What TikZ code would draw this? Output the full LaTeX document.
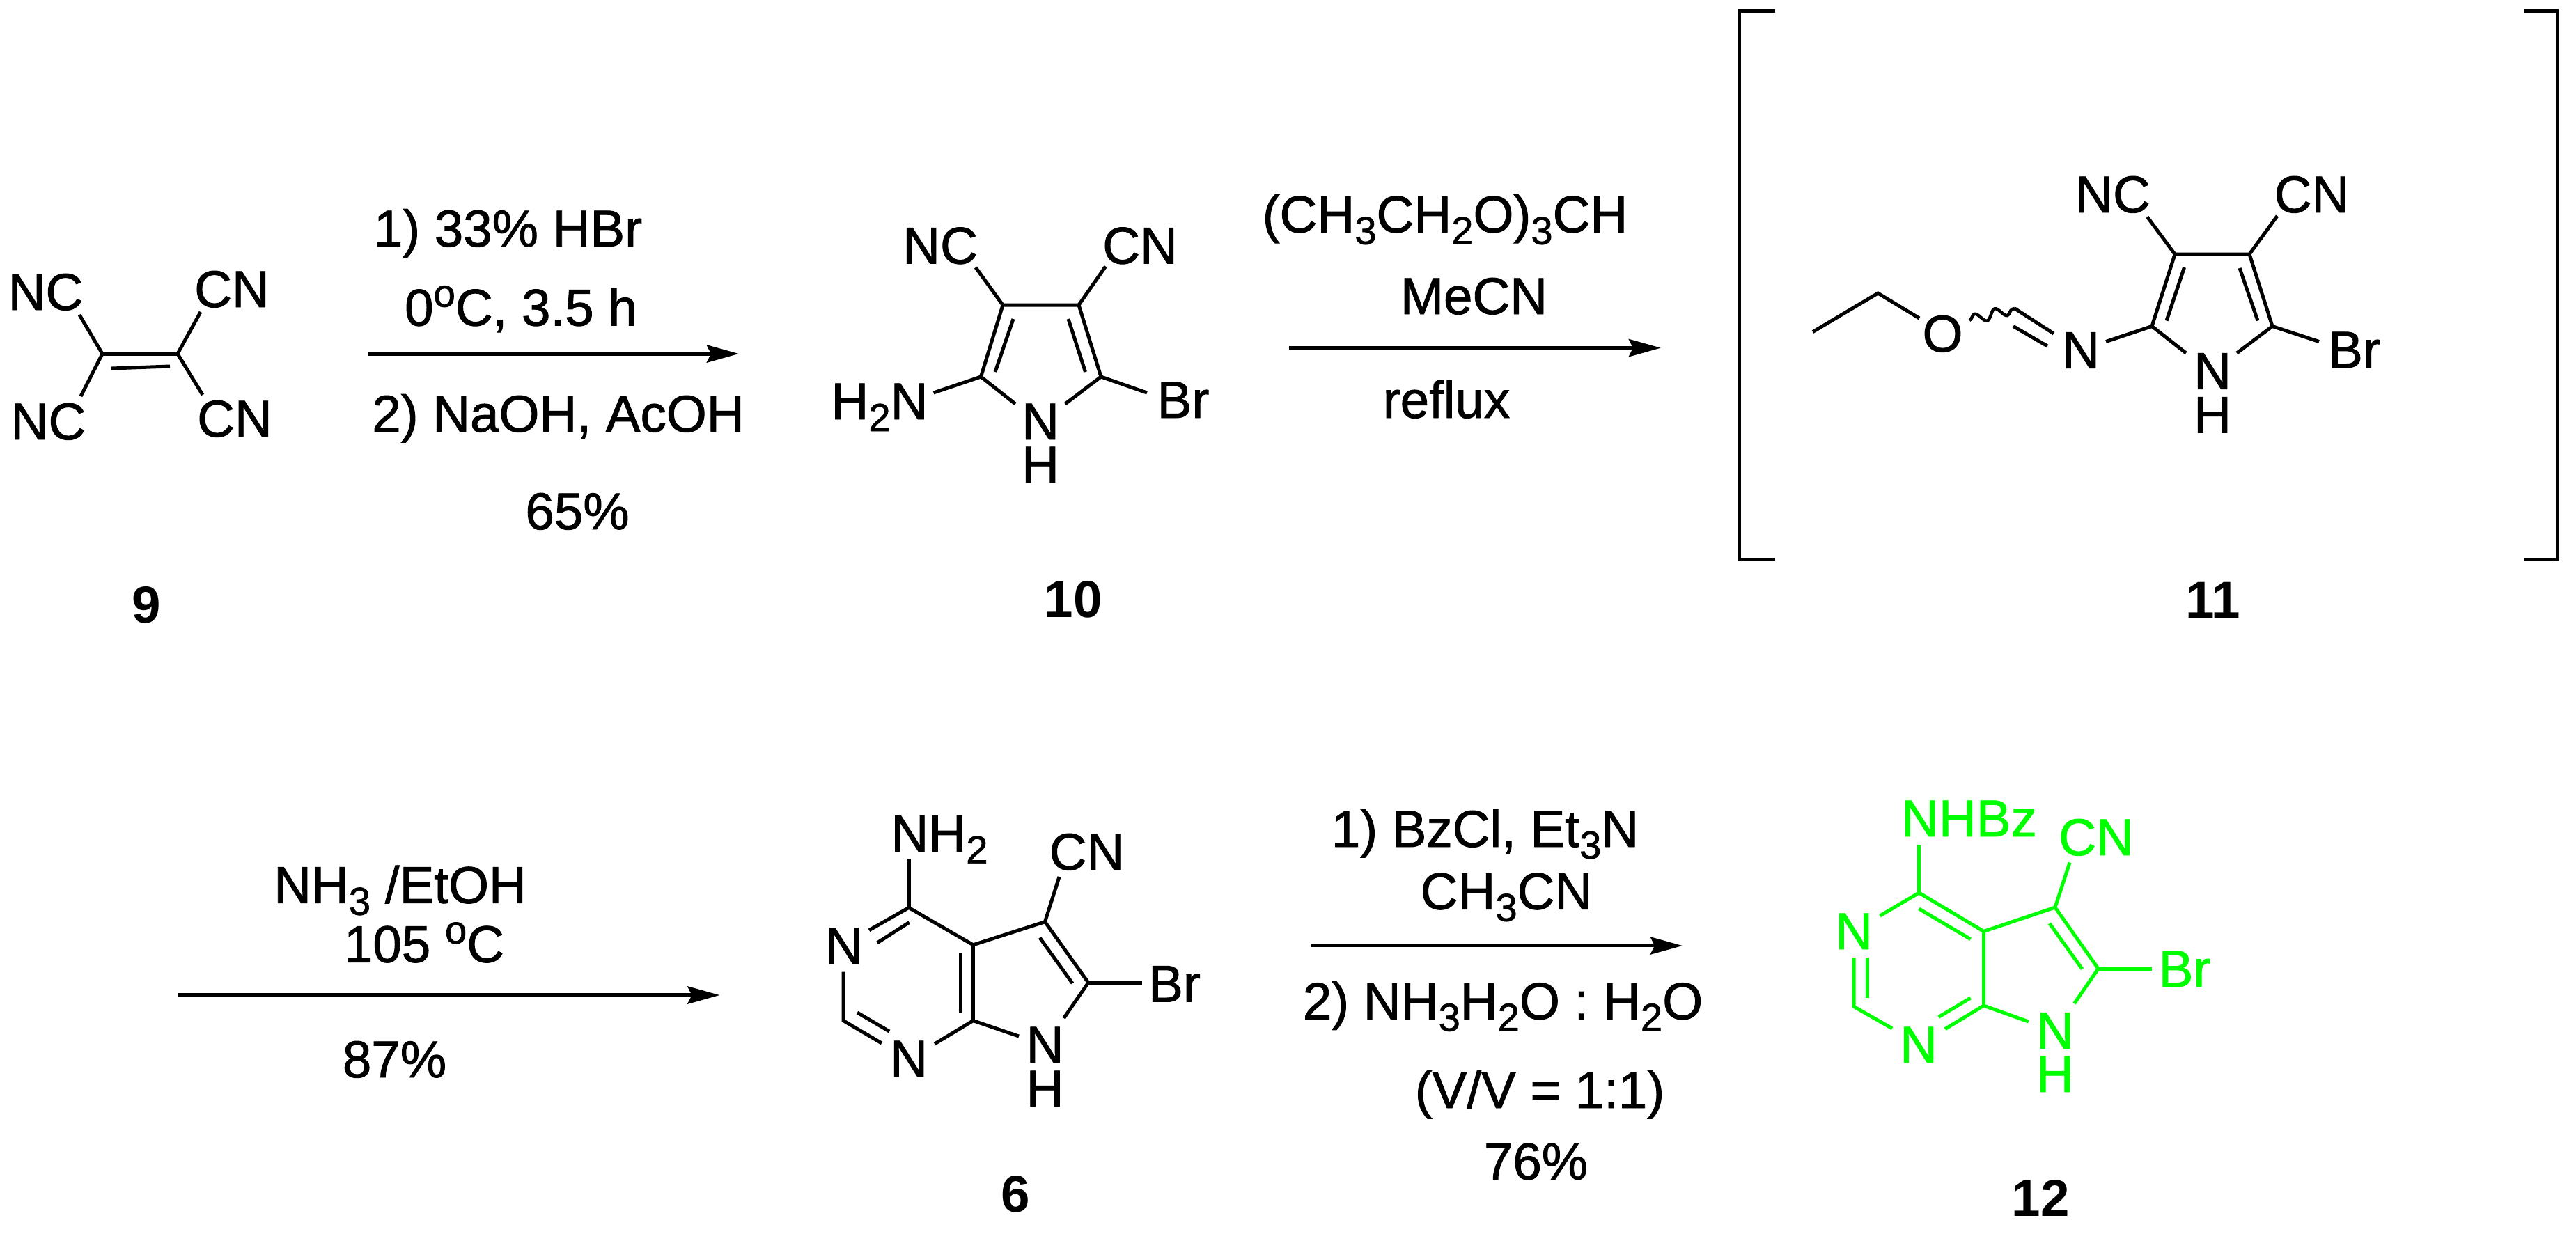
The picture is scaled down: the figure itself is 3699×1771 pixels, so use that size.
\documentclass[tikz,border=0pt]{standalone}
\usepackage{fontspec}
\setmainfont{Liberation Sans}[UprightFeatures={FakeBold=1.2}]
\usetikzlibrary{arrows.meta,decorations.pathmorphing}
\definecolor{grn}{RGB}{0,255,0}
\newcommand{\lowr}[1]{\raisebox{-0.17cm}{\fontsize{16}{16}\selectfont #1}}
\newcommand{\upr}[1]{\raisebox{0.27cm}{\fontsize{16}{16}\selectfont #1}}
\tikzset{
  txt/.style={font=\fontsize{21.2}{25}\selectfont, inner sep=0pt, anchor=base},
  gtxt/.style={txt, text=grn},
  num/.style={font=\fontsize{21.2}{25}\selectfont\bfseries, inner sep=0pt, anchor=base},
  bond/.style={line width=0.05cm, line join=miter, line cap=butt},
  gbond/.style={bond, draw=grn},
  rxn/.style={line width=0.055cm, -{Stealth[length=0.46cm,width=0.25cm,inset=0.06cm]}},
  brk/.style={line width=0.045cm, line join=miter}
}
\begin{document}
\begin{tikzpicture}[x=0.01cm,y=-0.01cm]
\useasboundingbox (0,0) rectangle (3699,1771);
% ---------- coordinates
\foreach \n/\x/\y in {
 a1/147/508, a2/255/508, a3/160/529, a4/244/526, a5/114/452, a6/288/448, a7/116/569, a8/291/567,
 r1s/528/508, r1e/1061/508,
 b2/1408.5/541, b3/1440/438, b4/1549/438, b5/1581/541, b6/1455/458, b7/1429/534, b8/1534/458, b9/1558.5/534,
 b10/1458/580, b11/1529.5/580, b12/1340.5/564, b13/1647/564, b14/1401/384, b15/1587.6/382.5,
 r2s/1851/499.6, r2e/2385/499.6,
 k1/2549/15.6, k2/2498/15.6, k3/2498/803, k4/2549/803, k5/3624/15.6, k6/3672/15.6, k7/3672/803, k8/3624/803,
 c2/3090/468.5, c3/3123/365, c4/3230/365, c5/3263/468.5, c6/3136.5/384, c7/3111/460.5, c8/3216/385, c9/3242/460.5,
 c10/3139/507, c11/3212/507, c12/3330/490.5, c13/3024/490.5, c14/2893/443, c15/2949/479, c16/2891/468.5, c17/2940/497,
 c18/2828/460, c19/2603/476.6, c20/2696.6/421, c21/2756/457, c22/3083.5/311.6, c23/3270/310,
 r3s/256/1429, r3e/1033.5/1429,
 d4/1305/1303.4, d4a/1397.4/1356.8, d7a/1397.4/1465.6, d5/1500.5/1323.7, d6/1562.8/1411, d2/1211/1465.6,
 d10/1248/1335.7, d11/1305.6/1324.5, d12/1259.7/1353.8, d13/1305/1233.3, d14/1379/1368, d15/1379/1455,
 d16/1493/1346.5, d17/1540/1412, d18/1521/1259, d19/1640/1411, d20/1527.6/1462, d21/1463/1488, d22/1342/1499,
 d23/1266/1498, d24/1231/1454, d25/1277/1481, d26/1211/1395.5,
 r4s/1882.6/1358, r4e/2416/1358,
 e4/2755.6/1282, e4a/2848.5/1337.4, e7a/2848.5/1444, e5/2951/1303, e6/3013/1391, e2/2662/1445.4,
 e10/2755.6/1212.7, e11/2699.5/1315, e12/2755.6/1305, e13/2829.6/1348.6, e14/2943/1326, e15/2990/1391.6,
 e16/2972/1238.5, e17/3090/1391, e18/2978.6/1441, e19/2912.8/1467, e20/2793/1477.6, e21/2829.6/1433, e22/2783.7/1460.4,
 e23/2717/1476.8, e24/2662/1375, e25/2681.6/1433, e26/2681.6/1375}
 {\coordinate (\n) at (\x,\y);}
% ---------- compound 9
\node[txt] (n9a) at (65.5,445) {NC};
\node[txt] (n9b) at (333,441) {CN};
\node[txt] (n9c) at (69.5,631) {NC};
\node[txt] (n9d) at (337,627) {CN};
\node[num] (l9) at (210.5,894) {9};
\draw[bond] (a1)--(a2);
\draw[bond] (a3)--(a4);
\draw[bond] (a5)--(a1)--(a7);
\draw[bond] (a6)--(a2)--(a8);
% ---------- reaction 1
\node[txt] (t1a) at (729.5,354) {1) 33\% HBr};
\node[txt] (t1b) at (748,467.5) {0\upr{o}C, 3.5 h};
\node[txt] (t1c) at (801.5,620) {2) NaOH, AcOH};
\node[txt] (t1d) at (829,760) {65\%};
\draw[rxn] (r1s)--(r1e);
% ---------- compound 10
\node[txt] (n10a) at (1350,378.5) {NC};
\node[txt] (n10b) at (1637,378.5) {CN};
\node[txt] (n10c) at (1263,602) {H\lowr{2}N};
\node[txt] (n10d) at (1699,600) {Br};
\node[txt] (n10e) at (1494,631) {N};
\node[txt] (n10f) at (1494,693) {H};
\node[num] (l10) at (1541,886) {10};
\draw[bond] (b10)--(b2)--(b3)--(b4)--(b5)--(b11);
\draw[bond] (b6)--(b7);
\draw[bond] (b8)--(b9);
\draw[bond] (b12)--(b2);
\draw[bond] (b13)--(b5);
\draw[bond] (b14)--(b3);
\draw[bond] (b15)--(b4);
% ---------- reaction 2
\node[txt] (t2a) at (2075,333.6) {(CH\lowr{3}CH\lowr{2}O)\lowr{3}CH};
\node[txt] (t2b) at (2116.5,451) {MeCN};
\node[txt] (t2c) at (2077,600) {reflux};
\draw[rxn] (r2s)--(r2e);
% ---------- compound 11
\draw[brk] (k1)--(k2)--(k3)--(k4);
\draw[brk] (k5)--(k6)--(k7)--(k8);
\node[txt] (n11a) at (3034,305) {NC};
\node[txt] (n11b) at (3319.5,305) {CN};
\node[txt] (n11c) at (3380.5,528) {Br};
\node[txt] (n11d) at (2988,528.6) {N};
\node[txt] (n11e) at (2789.5,505) {O};
\node[txt] (n11f) at (3177,558.6) {N};
\node[txt] (n11g) at (3177,621.5) {H};
\node[num] (l11) at (3178,887) {11};
\draw[bond] (c10)--(c2)--(c3)--(c4)--(c5)--(c11);
\draw[bond] (c6)--(c7);
\draw[bond] (c8)--(c9);
\draw[bond] (c5)--(c12);
\draw[bond] (c2)--(c13);
\draw[bond] (c14)--(c15);
\draw[bond] (c16)--(c17);
\draw[line width=0.045cm, decorate, decoration={snake, amplitude=0.07cm, segment length=0.3cm}] (c18)--(c14);
\draw[bond] (c19)--(c20)--(c21);
\draw[bond] (c3)--(c22);
\draw[bond] (c4)--(c23);
% ---------- reaction 3
\node[txt] (t3a) at (574.5,1296.7) {NH\lowr{3} /EtOH};
\node[txt] (t3b) at (609,1381.7) {105 \upr{o}C};
\node[txt] (t3c) at (566.5,1547) {87\%};
\draw[rxn] (r3s)--(r3e);
% ---------- compound 6
\node[txt] (n6a) at (1349,1222.6) {NH\lowr{2}};
\node[txt] (n6b) at (1212,1384) {N};
\node[txt] (n6c) at (1305,1546) {N};
\node[txt] (n6d) at (1500.5,1526) {N};
\node[txt] (n6e) at (1500.5,1589) {H};
\node[txt] (n6f) at (1560.5,1249) {CN};
\node[txt] (n6g) at (1686.5,1438.5) {Br};
\node[num] (l6) at (1458,1740) {6};
\draw[bond] (d10)--(d4)--(d4a)--(d5)--(d6)--(d20);
\draw[bond] (d11)--(d12);
\draw[bond] (d4)--(d13);
\draw[bond] (d4a)--(d7a);
\draw[bond] (d14)--(d15);
\draw[bond] (d16)--(d17);
\draw[bond] (d5)--(d18);
\draw[bond] (d6)--(d19);
\draw[bond] (d21)--(d7a)--(d22);
\draw[bond] (d23)--(d2)--(d26);
\draw[bond] (d24)--(d25);
% ---------- reaction 4
\node[txt] (t4a) at (2132.5,1216) {1) BzCl, Et\lowr{3}N};
\node[txt] (t4b) at (2163,1305.6) {CH\lowr{3}CN};
\node[txt] (t4c) at (2158,1463.4) {2) NH\lowr{3}H\lowr{2}O : H\lowr{2}O};
\node[txt] (t4d) at (2211,1591) {(V/V = 1:1)};
\node[txt] (t4e) at (2205.5,1693.5) {76\%};
\draw[rxn, line width=0.045cm] (r4s)--(r4e);
% ---------- compound 12
\node[gtxt] (n12a) at (2827.5,1201) {NHBz};
\node[gtxt] (n12b) at (2662,1363) {N};
\node[gtxt] (n12c) at (2755,1526) {N};
\node[gtxt] (n12d) at (2951,1505.6) {N};
\node[gtxt] (n12e) at (2951,1568) {H};
\node[gtxt] (n12f) at (3010,1228) {CN};
\node[gtxt] (n12g) at (3137,1417) {Br};
\node[num] (l12) at (2930,1746.5) {12};
\draw[gbond] (e11)--(e4)--(e4a)--(e5)--(e6)--(e18);
\draw[gbond] (e4)--(e10);
\draw[gbond] (e12)--(e13);
\draw[gbond] (e4a)--(e7a);
\draw[gbond] (e14)--(e15);
\draw[gbond] (e5)--(e16);
\draw[gbond] (e6)--(e17);
\draw[gbond] (e19)--(e7a)--(e20);
\draw[gbond] (e21)--(e22);
\draw[gbond] (e23)--(e2)--(e24);
\draw[gbond] (e25)--(e26);
\end{tikzpicture}
\end{document}
